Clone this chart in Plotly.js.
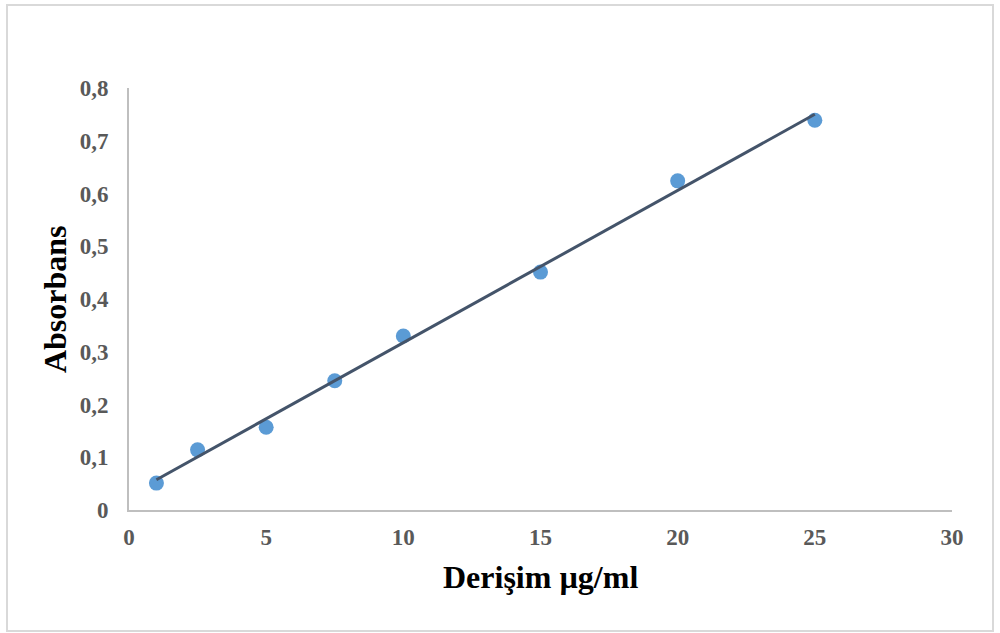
<!DOCTYPE html>
<html>
<head>
<meta charset="utf-8">
<script src="https://cdn.plot.ly/plotly-3.0.1.min.js"></script>
<style>
html,body{margin:0;padding:0;background:#fff;}
#wrap{position:relative;width:1000px;height:633px;}
#chart{position:absolute;left:0;top:0;width:1000px;height:633px;}
#frame{position:absolute;left:6px;top:4px;width:984px;height:624px;border:2px solid #d9d9d9;pointer-events:none;}
</style>
</head>
<body>
<div id="wrap"><div id="chart"></div><div id="frame"></div></div>
<script>
var concentration = [1, 2.5, 5, 7.5, 10, 15, 20, 25];
var absorbance = [0.051, 0.114, 0.157, 0.245, 0.330, 0.451, 0.624, 0.739];
var xTitle = 'Derişim µg/ml';
var yTitle = 'Absorbans';

// linear least-squares trendline
var n = concentration.length, sx = 0, sy = 0, sxx = 0, sxy = 0;
for (var i = 0; i < n; i++) {
  sx += concentration[i]; sy += absorbance[i];
  sxx += concentration[i] * concentration[i];
  sxy += concentration[i] * absorbance[i];
}
var slope = (n * sxy - sx * sy) / (n * sxx - sx * sx);
var intercept = (sy - slope * sx) / n;
var xMin = Math.min.apply(null, concentration), xMax = Math.max.apply(null, concentration);
var trendX = [xMin, xMax];
var trendY = trendX.map(function (x) { return intercept + slope * x; });

var serif = '"Liberation Serif", "Times New Roman", serif';

var data = [
  {x: concentration, y: absorbance, type: 'scatter', mode: 'markers',
   marker: {color: '#5b9bd5', size: 15}, showlegend: false, cliponaxis: false},
  {x: trendX, y: trendY, type: 'scatter', mode: 'lines',
   line: {color: '#44546a', width: 3}, showlegend: false, cliponaxis: false}
];

var layout = {
  width: 1000, height: 633,
  margin: {l: 129, r: 48, t: 88, b: 123},
  paper_bgcolor: '#ffffff', plot_bgcolor: '#ffffff',
  separators: ',.',
  font: {family: serif, color: '#595959'},
  xaxis: {
    range: [0, 30], dtick: 5, tick0: 0, showgrid: false, zeroline: false,
    showline: true, linecolor: '#bfbfbf', linewidth: 2, ticks: '',
    tickfont: {family: serif, size: 23, color: '#595959', weight: 'bold'},
    ticklabelstandoff: 5, fixedrange: true
  },
  yaxis: {
    range: [0, 0.8], dtick: 0.1, tick0: 0, showgrid: false, zeroline: false,
    showline: true, linecolor: '#bfbfbf', linewidth: 2, ticks: '',
    tickfont: {family: serif, size: 23, color: '#595959', weight: 'bold'},
    ticklabelstandoff: 14, fixedrange: true
  },
  annotations: [
    {text: xTitle, xref: 'paper', yref: 'paper', x: 0.5, xanchor: 'center',
     y: -(577 - 510) / 422, yanchor: 'middle', showarrow: false,
     font: {family: serif, size: 32, color: '#000000', weight: 'bold'}},
    {text: yTitle, xref: 'paper', yref: 'paper', x: (55 - 129) / 824, xanchor: 'center',
     y: 0.5, yanchor: 'middle', showarrow: false, textangle: -90,
     font: {family: serif, size: 32, color: '#000000', weight: 'bold'}}
  ]
};

Plotly.newPlot('chart', data, layout, {staticPlot: true, displayModeBar: false});
</script>
</body>
</html>
